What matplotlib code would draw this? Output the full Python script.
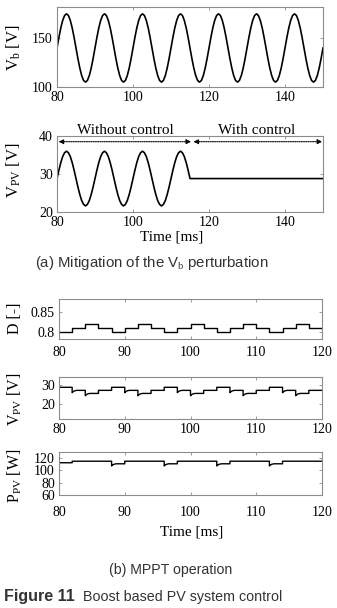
import numpy as np
import matplotlib
matplotlib.use("Agg")
import matplotlib.pyplot as plt

plt.rcParams['font.family'] = ['Liberation Serif', 'DejaVu Serif']
plt.rcParams['mathtext.fontset'] = 'custom'
plt.rcParams['mathtext.rm'] = 'Liberation Serif'
plt.rcParams['mathtext.it'] = 'Liberation Serif:italic'
plt.rcParams['font.size'] = 10

# ---------------------------------------------------------------------------
# data
# (a) one 10 ms cycle of V_b and V_PV, sampled every 0.5 ms
vb_cycle = [140, 150.8, 160.6, 168.3, 173.3, 175, 173.3, 168.3, 160.6, 150.8,
            140, 129.2, 119.4, 111.7, 106.7, 105, 106.7, 111.7, 119.4, 129.2]
vpv_cycle = [28.8, 31.0, 33.0, 34.6, 35.6, 36.0, 35.6, 34.6, 33.0, 31.0,
             28.8, 26.6, 24.6, 23.0, 22.0, 21.6, 22.0, 23.0, 24.6, 26.6]
vpv_flat = 28.8          # value after control is switched on
t_switch = 115           # ms
sample_dt = 0.5

# (b) MPPT, one value per 2 ms step from 80 to 120 ms
step_start = [80, 82, 84, 86, 88, 90, 92, 94, 96, 98,
              100, 102, 104, 106, 108, 110, 112, 114, 116, 118]
duty = [0.80, 0.81, 0.82, 0.81, 0.80, 0.81, 0.82, 0.81, 0.80, 0.81,
        0.82, 0.81, 0.80, 0.81, 0.82, 0.81, 0.80, 0.81, 0.82, 0.81]
vpv_mppt = [28.6, 27.0, 25.4, 27.0, 28.6, 27.0, 25.4, 27.0, 28.6, 27.0,
            25.4, 27.0, 28.6, 27.0, 25.4, 27.0, 28.6, 27.0, 25.4, 27.0]
ppv_mppt = [112.5, 115, 115, 115, 110.8, 115, 115, 115, 110.8, 115,
            115, 115, 110.8, 115, 115, 115, 110.8, 115, 115, 115]
# short undershoot after a step (offset, time after step in ms)
dip_dt = [0.0, 0.15, 0.35, 0.7]
dip_v = [-1.2, -0.7, -0.25, 0.0]
dip_p = [-3.5, -2.0, -0.8, 0.0]
# ---------------------------------------------------------------------------

W, H = 337, 608
fig = plt.figure(figsize=(W / 100, H / 100), dpi=100)
SANS = ['Liberation Sans', 'DejaVu Sans']


def px_box(l, t, r, b):
    return [l / W, 1 - b / H, (r - l) / W, (b - t) / H]


def ftext(x, y, s, **kw):
    fig.text(x / W, 1 - y / H, s, **kw)


def style(ax):
    for sp in ax.spines.values():
        sp.set_color('0.55')
        sp.set_linewidth(0.8)
    ax.tick_params(direction='in', length=2.5, width=0.6, color='0.55',
                   top=True, right=True, labelsize=10, pad=3)


def with_dips(t0, levels, dips):
    # build a step trace with a short undershoot after each downward step
    t, y = [], []
    for i, lev in enumerate(levels):
        start = t0[i]
        end = t0[i + 1] if i + 1 < len(t0) else start + 2
        if i > 0 and lev < levels[i - 1]:
            for dt, d in zip(dip_dt, dips):
                t.append(start + dt)
                y.append(lev + d)
        else:
            t.append(start)
            y.append(lev)
        t.append(end)
        y.append(lev)
    return t, y


# --- (a) top: V_b ---------------------------------------------------------
n_vb = 7 * len(vb_cycle) + 1
vb = (vb_cycle * 8)[:n_vb]
t_vb = [80 + sample_dt * k for k in range(n_vb)]

ax1 = fig.add_axes(px_box(57, 7, 323, 87))
ax1.plot(t_vb, vb, color='k', lw=1.2)
ax1.set_xlim(80, 150)
ax1.set_ylim(100, 182)
ax1.set_xticks([80, 100, 120, 140])
ax1.set_yticks([100, 150])
style(ax1)
ftext(14, 48, r'V$_\mathrm{b}$ [V]', rotation=90, ha='center', va='center', fontsize=12)

# --- (a) bottom: V_PV -----------------------------------------------------
n_osc = int((t_switch - 80) / sample_dt) + 1
vpv = (vpv_cycle * 4)[:n_osc]
t_vpv = [80 + sample_dt * k for k in range(n_osc)]
t_vpv += [150]
vpv += [vpv_flat]

ax2 = fig.add_axes(px_box(57, 136, 323, 212))
ax2.plot(t_vpv, vpv, color='k', lw=1.2)
ax2.set_xlim(80, 150)
ax2.set_ylim(20, 40)
ax2.set_xticks([80, 100, 120, 140])
ax2.set_yticks([20, 30, 40])
style(ax2)
arrow = dict(arrowstyle='<|-|>', color='k', lw=0.8, ls=(0, (1, 1)),
             mutation_scale=7, shrinkA=0, shrinkB=0)
ax2.annotate('', xy=(115.3, 38.5), xytext=(80.4, 38.5), arrowprops=arrow)
ax2.annotate('', xy=(149.8, 38.5), xytext=(115.9, 38.5), arrowprops=arrow)
ax2.text(98, 41.4, 'Without control', ha='center', va='center', fontsize=11, clip_on=False)
ax2.text(132.5, 41.4, 'With control', ha='center', va='center', fontsize=11, clip_on=False)
ftext(14, 170, r'V$_\mathrm{PV}$ [V]', rotation=90, ha='center', va='center', fontsize=12)
ftext(172, 237, 'Time [ms]', ha='center', va='center', fontsize=11)

ftext(152, 263, r'(a) Mitigation of the V$_\mathrm{b}$ perturbation', ha='center', va='center',
      fontsize=10.8, family=SANS, color='#333333')

# --- (b) D ------------------------------------------------------------------
ax3 = fig.add_axes(px_box(59, 299, 322, 339))
ax3.step(step_start + [120], duty + [duty[-1]], where='post', color='k', lw=1.0)
ax3.set_xlim(80, 120)
ax3.set_ylim(0.782, 0.882)
ax3.set_yticks([0.8, 0.85])
ax3.set_yticklabels(['0.8', '0.85'])
ax3.set_xticks([80, 90, 100, 110, 120])
style(ax3)
ax3.tick_params(axis='x', pad=5)
ftext(15, 318, 'D [-]', rotation=90, ha='center', va='center', fontsize=11.5)

# --- (b) V_PV ---------------------------------------------------------------
tv, yv = with_dips(step_start, vpv_mppt, dip_v)
ax4 = fig.add_axes(px_box(59, 377, 322, 419))
ax4.plot(tv, yv, color='k', lw=1.0)
ax4.set_xlim(80, 120)
ax4.set_ylim(12, 34)
ax4.set_yticks([20, 30])
ax4.set_xticks([80, 90, 100, 110, 120])
style(ax4)
ftext(15, 399, r'V$_\mathrm{PV}$ [V]', rotation=90, ha='center', va='center', fontsize=11.5)

# --- (b) P_PV ---------------------------------------------------------------
tp, yp = with_dips(step_start, ppv_mppt, dip_p)
ax5 = fig.add_axes(px_box(59, 452, 322, 495))
ax5.plot(tp, yp, color='k', lw=1.0)
ax5.set_xlim(80, 120)
ax5.set_ylim(60, 130)
ax5.set_yticks([60, 80, 100, 120])
ax5.set_xticks([80, 90, 100, 110, 120])
style(ax5)
ax5.tick_params(axis='x', pad=8)
ftext(15, 476, r'P$_\mathrm{PV}$ [W]', rotation=90, ha='center', va='center', fontsize=11.5)
ftext(192, 532, 'Time [ms]', ha='center', va='center', fontsize=11)

ftext(171, 570, '(b) MPPT operation', ha='center', va='center',
      fontsize=10.2, family=SANS, color='#333333')
ftext(4, 597, 'Figure 11', ha='left', va='center', fontsize=11.5,
      fontweight='bold', family=SANS, color='#333333')
ftext(83, 597, 'Boost based PV system control', ha='left', va='center', fontsize=10.3,
      family=SANS, color='#333333')

fig.savefig('out.png', dpi=100)
